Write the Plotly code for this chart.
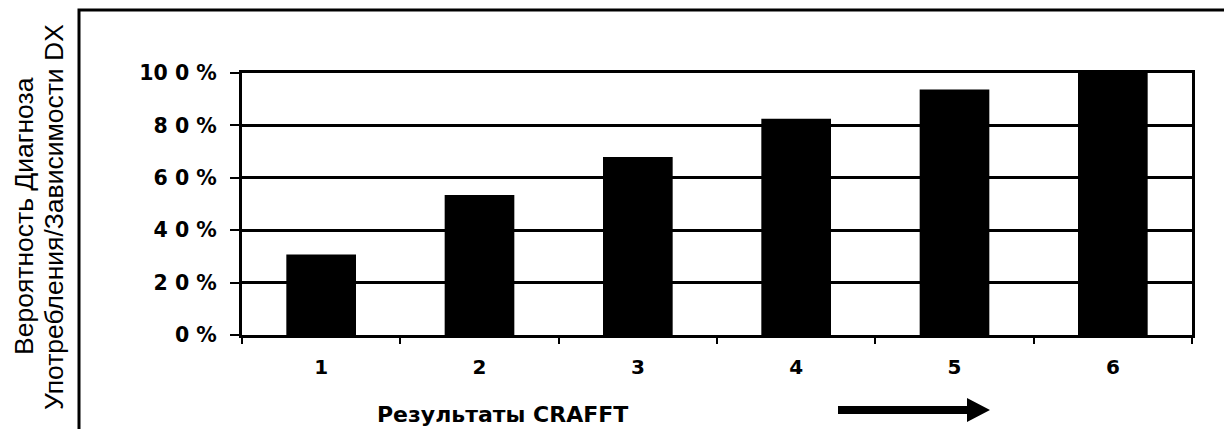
import plotly.graph_objects as go

categories = ["1", "2", "3", "4", "5", "6"]
values = [30.7, 53.4, 67.9, 82.5, 93.7, 100.0]
y_tickvals = [0, 20, 40, 60, 80, 100]
y_ticktext = ["0\u00a0%", "2\u00a00\u00a0%", "4\u00a00\u00a0%", "6\u00a00\u00a0%", "8\u00a00\u00a0%", "10\u00a00\u00a0%"]
x_title = "Результаты CRAFFT"
y_title_1 = "Вероятность Диагноза"
y_title_2 = "Употребления/Зависимости DX"

OFF = 8  # page body margin
SW, SH = 1232, 429           # screen size
W, H = SW - OFF, SH - OFF    # figure size
# plot area in screen pixels
PL, PR, PT, PB = 242, 1192, 73, 335
ML, MR, MT, MB = PL - OFF, SW - PR, PT - OFF, SH - PB
PW = PR - PL
PH = PB - PT


def px(x):
    return (x - PL) / PW


def py(y):
    return (PB - y) / PH


BOLD = "DejaVu Sans, Arial, sans-serif"
REG = "Liberation Sans, Arial, sans-serif"

fig = go.Figure(go.Bar(x=categories, y=values, marker=dict(color="black", line=dict(width=0))))

fig.update_layout(
    width=W, height=H,
    margin=dict(l=ML, r=MR, t=MT, b=MB, pad=0),
    paper_bgcolor="white", plot_bgcolor="white",
    bargap=0.56, showlegend=False,
    font=dict(family=BOLD, color="black"),
)
fig.update_xaxes(
    type="category", tickson="boundaries", ticks="outside", ticklen=6, tickwidth=2,
    tickcolor="black", showline=True, linewidth=3, linecolor="black", mirror=True,
    showgrid=False, tickfont=dict(family=BOLD, size=20, color="black", weight="bold"),
    ticklabelstandoff=12,
)
fig.update_yaxes(
    range=[0, 100], tickvals=y_tickvals, ticktext=y_ticktext, ticks="outside",
    ticklen=9, tickwidth=2, tickcolor="black", showline=True, linewidth=3,
    linecolor="black", mirror=True, showgrid=True, gridcolor="black", gridwidth=3,
    zeroline=False, tickfont=dict(family=BOLD, size=20.5, color="black", weight="bold"),
    ticklabelstandoff=9,
)

# outer frame (extends beyond the image at right and bottom)
fig.add_shape(type="rect", xref="paper", yref="paper",
              x0=px(79), x1=px(1245), y0=py(445), y1=py(10),
              line=dict(color="black", width=3), fillcolor="rgba(0,0,0,0)", layer="above")

# arrow
path = (f"M {px(838)} {py(406)} L {px(967)} {py(406)} L {px(967)} {py(398)} "
        f"L {px(990)} {py(410)} L {px(967)} {py(422)} L {px(967)} {py(414)} "
        f"L {px(838)} {py(414)} Z")
fig.add_shape(type="path", xref="paper", yref="paper", path=path,
              fillcolor="black", line=dict(color="black", width=0))

fig.add_annotation(text=x_title, xref="paper", yref="paper", x=px(502), y=py(414),
                   xanchor="center", yanchor="middle", showarrow=False,
                   font=dict(family=BOLD, size=22, color="black", weight="bold"))
fig.add_annotation(text=y_title_1, xref="paper", yref="paper", x=px(24), y=py(216),
                   xanchor="center", yanchor="middle", showarrow=False, textangle=-90,
                   font=dict(family=REG, size=26.5, color="black"))
fig.add_annotation(text=y_title_2, xref="paper", yref="paper", x=px(54), y=py(217),
                   xanchor="center", yanchor="middle", showarrow=False, textangle=-90,
                   font=dict(family=REG, size=26.5, color="black"))

fig.write_html("out.html")
